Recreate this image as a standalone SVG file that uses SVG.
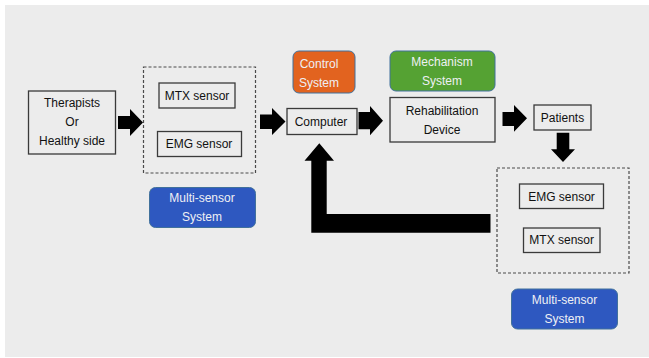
<svg xmlns="http://www.w3.org/2000/svg" width="649" height="358" viewBox="0 0 649 358">
<style>
.box{fill:none;stroke:#3a3a3a;stroke-width:1.3}
.dash{fill:none;stroke:#4a4a4a;stroke-width:1.2;stroke-dasharray:3 2}
.t{font-family:"Liberation Sans",Arial,sans-serif;font-size:12px;fill:#111;text-anchor:middle;dominant-baseline:central}
.w{font-family:"Liberation Sans",Arial,sans-serif;font-size:12px;fill:#eef0f4;text-anchor:middle;dominant-baseline:central}
.arr{fill:#000}
.lab{stroke:#41719c;stroke-width:1}
</style>
<rect x="0" y="0" width="649" height="358" fill="#ffffff"/>
<rect x="5" y="5" width="644" height="352" fill="#ececec"/>

<g id="therapists">
<rect class="box" x="28.5" y="91" width="87" height="63"/>
<text class="t" x="72" y="103">Therapists</text>
<text class="t" x="72" y="122">Or</text>
<text class="t" x="72" y="141">Healthy side</text>
</g>

<g id="sensors1">
<rect class="dash" x="143.5" y="67" width="112" height="106"/>
<g id="mtx1">
<rect class="box" x="159" y="83" width="76" height="25"/>
<text class="t" x="197" y="96">MTX sensor</text>
</g>
<g id="emg1">
<rect class="box" x="157.5" y="131.5" width="84" height="25"/>
<text class="t" x="199" y="144">EMG sensor</text>
</g>
</g>

<g id="multisensor1">
<rect class="lab" x="149.5" y="187.5" width="106" height="40" rx="6" fill="#2e58c0"/>
<text class="w" x="202" y="198">Multi-sensor</text>
<text class="w" x="202" y="217">System</text>
</g>

<g id="control">
<rect class="lab" x="293" y="51" width="62" height="42" rx="6" fill="#e2631f"/>
<text class="w" x="319" y="64">Control</text>
<text class="w" x="319" y="82.5">System</text>
</g>

<g id="computer">
<rect class="box" x="287" y="108.5" width="70" height="26"/>
<text class="t" x="321" y="121.5">Computer</text>
</g>

<g id="mechanism">
<rect class="lab" x="390" y="51" width="105" height="40" rx="6" fill="#55a233"/>
<text class="w" x="442" y="61.5">Mechanism</text>
<text class="w" x="442" y="80.5">System</text>
</g>

<g id="rehab">
<rect class="box" x="390" y="97.5" width="105" height="44.5"/>
<text class="t" x="442" y="110.5">Rehabilitation</text>
<text class="t" x="442" y="129.5">Device</text>
</g>

<g id="patients">
<rect class="box" x="534" y="105" width="57" height="25"/>
<text class="t" x="562.5" y="118">Patients</text>
</g>

<g id="sensors2">
<rect class="dash" x="497" y="168" width="132" height="105"/>
<g id="emg2">
<rect class="box" x="519.5" y="184" width="84" height="24.5"/>
<text class="t" x="561.5" y="196.5">EMG sensor</text>
</g>
<g id="mtx2">
<rect class="box" x="523.5" y="228" width="76.5" height="24.5"/>
<text class="t" x="561.7" y="240">MTX sensor</text>
</g>
</g>

<g id="multisensor2">
<rect class="lab" x="511.5" y="289" width="106" height="40" rx="6" fill="#2e58c0"/>
<text class="w" x="564.5" y="300">Multi-sensor</text>
<text class="w" x="564.5" y="318.5">System</text>
</g>

<g id="connectors">
<polygon class="arr" points="118,116 130,116 130,109 143,122.5 130,136 130,129 118,129"/>
<polygon class="arr" points="260,114.5 272,114.5 272,108 285.5,121.5 272,135 272,129 260,129"/>
<polygon class="arr" points="358.5,112 370,112 370,106 383,120.7 370,135.3 370,129.3 358.5,129.3"/>
<polygon class="arr" points="502.5,112 514,112 514,105 527,118.3 514,131.7 514,126 502.5,126"/>
<polygon class="arr" points="556.7,132.7 569.3,132.7 569.3,149.3 575,149.3 563,162 551,149.3 556.7,149.3"/>
<polygon class="arr" points="490.5,214 326.7,214 326.7,160.7 334,160.7 319.3,143.3 304.5,160.7 311.3,160.7 311.3,232.7 490.5,232.7"/>
</g>
</svg>
